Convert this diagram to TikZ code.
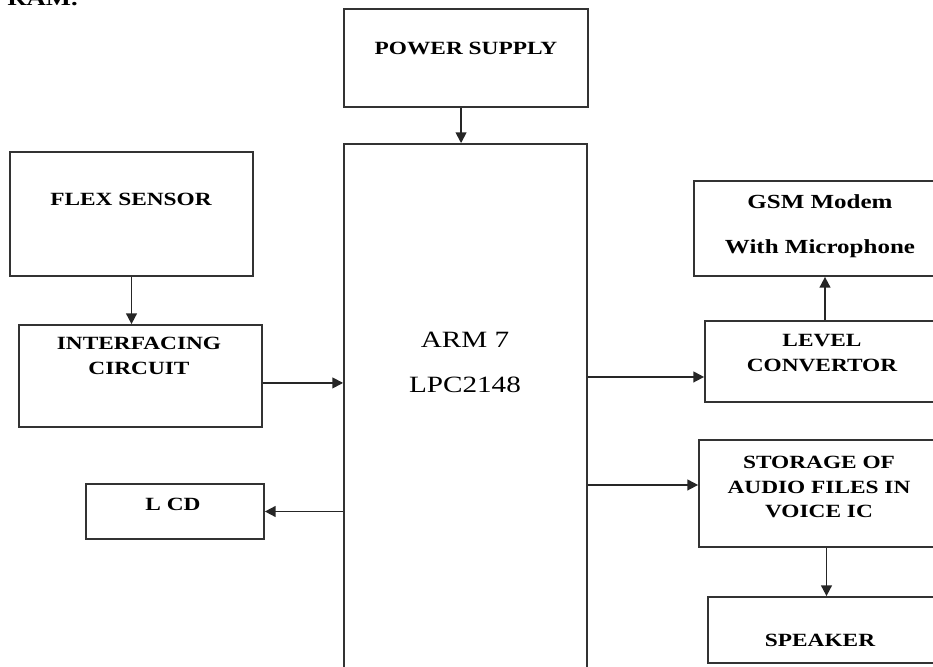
\documentclass[tikz,border=0pt]{standalone}
\usepackage{fontspec}
\newfontfamily\blkfont[FakeStretch=1.25]{Liberation Serif}
\usetikzlibrary{arrows.meta,fit}
\tikzset{
  blk/.style={draw=black!80,line width=1.3pt,inner sep=0pt},
  lbl/.style={font=\blkfont\bfseries\fontsize{14}{18.4}\selectfont,align=center,inner sep=0pt},
  arr/.style={draw=black!85,line width=1.3pt,-{Triangle[length=8pt,width=8pt]}}
}
\begin{document}
\begin{tikzpicture}[x=0.75pt,y=-0.75pt]
\useasboundingbox (0,0) rectangle (933,667);
\node[lbl,font=\blkfont\bfseries\fontsize{16}{18}\selectfont,anchor=base east] (head) at (78,6) {RAM.};
% blocks
\node[blk,fit={(344,9) (588,107)}] (power) {};
\node[blk,fit={(344,144) (587,690)}] (arm) {};
\node[blk,fit={(10,152) (253,276)}] (flex) {};
\node[blk,fit={(19,325) (262,427)}] (intf) {};
\node[blk,fit={(86,484) (264,539)}] (lcd) {};
\node[blk,fit={(694,181) (945,276)}] (gsm) {};
\node[blk,fit={(705,321) (945,402)}] (level) {};
\node[blk,fit={(699,440) (945,547)}] (store) {};
\node[blk,fit={(708,597) (945,663)}] (speaker) {};
% texts
\node[lbl] (powerlbl) at (466,48) {POWER SUPPLY};
\node[lbl,font=\blkfont\fontsize{17.5}{20}\selectfont] (armlbl) at (465,340) {ARM 7};
\node[lbl,font=\blkfont\fontsize{17.5}{20}\selectfont] (cpulbl) at (465,385) {LPC2148};
\node[lbl] (flexlbl) at (131,199) {FLEX SENSOR};
\node[lbl] (intflbl) at (139,356) {INTERFACING\\CIRCUIT};
\node[lbl] (lcdlbl) at (173,504) {L CD};
\node[lbl,font=\blkfont\bfseries\fontsize{15}{18}\selectfont] (gsmlbl) at (820,226) {GSM Modem\\[16pt]With Microphone};
\node[lbl] (levellbl) at (822,353) {LEVEL\\CONVERTOR};
\node[lbl] (storelbl) at (819,487) {STORAGE OF\\AUDIO FILES IN\\VOICE IC};
\node[lbl] (speakerlbl) at (820,640) {SPEAKER};
% connectors
\coordinate (intfout) at ([yshift=-5.2pt]intf.east);
\coordinate (powerout) at ([xshift=-3.7pt]power.south);
\coordinate (levelin) at ([yshift=-11.6pt]level.west);
\coordinate (storein) at ([yshift=6.4pt]store.west);
\draw[arr] (powerout) -- (powerout |- arm.north);
\draw[arr] (flex.south) -- (flex.south |- intf.north);
\draw[arr] (intfout) -- (intfout -| arm.west);
\draw[arr] (arm.west |- lcd.east) -- (lcd.east);
\draw[arr] (arm.east |- levelin) -- (levelin);
\draw[arr] (arm.east |- storein) -- (storein);
\draw[arr] (level.north) -- (level.north |- gsm.south);
\draw[arr] (store.south -| speaker.north) -- (speaker.north);
\end{tikzpicture}
\end{document}
